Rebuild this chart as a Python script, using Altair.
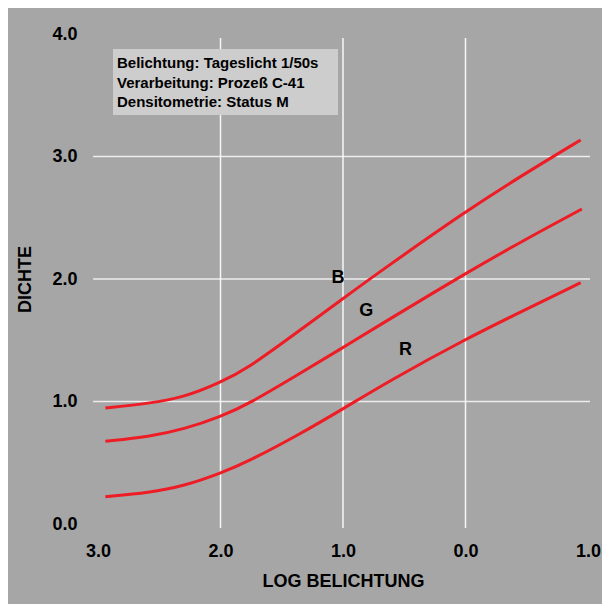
import altair as alt
import pandas as pd

# Characteristic curves (log exposure vs density)
x_b = [-2.94, -2.58, -2.30, -2.0, -1.76, -1.46, -1.0, -0.70, 0.0, 0.40, 0.94]
dens_b = [0.947, 0.985, 1.034, 1.154, 1.284, 1.502, 1.84, 2.06, 2.55, 2.808, 3.135]
x_g = [-2.94, -2.58, -2.30, -2.0, -1.76, -1.35, -1.0, -0.70, 0.0, 0.50, 0.95]
dens_g = [0.675, 0.713, 0.773, 0.876, 0.985, 1.23, 1.44, 1.625, 2.046, 2.33, 2.571]
x_r = [-2.94, -2.58, -2.30, -2.0, -1.76, -1.35, -1.0, -0.62, 0.0, 0.50, 0.94]
dens_r = [0.223, 0.256, 0.31, 0.414, 0.517, 0.735, 0.94, 1.17, 1.51, 1.755, 1.97]

curve_names = ["B", "G", "R"]
label_x = [-1.04, -0.81, -0.49]
label_y = [2.01, 1.74, 1.42]

x_ticks = [-3, -2, -1, 0, 1]
y_ticks = [0, 1, 2, 3, 4]
x_grid = [-2, -1, 0]
y_grid = [1, 2, 3]

info_lines = ["Belichtung: Tageslicht 1/50s", "Verarbeitung: Prozeß C-41", "Densitometrie: Status M"]

rows = []
for name, xsv, vals in zip(curve_names, [x_b, x_g, x_r], [dens_b, dens_g, dens_r]):
    for xv, yv in zip(xsv, vals):
        rows.append({"curve": name, "x": xv, "y": yv})
curves = pd.DataFrame(rows)
labels = pd.DataFrame({"name": curve_names, "x": label_x, "y": label_y})
vgrid = pd.DataFrame({"x": x_grid, "y": [-0.033] * 3, "y2": [3.967] * 3})
hgrid = pd.DataFrame({"y": y_grid, "x": [-3.04] * 3, "x2": [1.016] * 3})
info = pd.DataFrame({"t": info_lines, "py": [29, 49, 68]})

FONT = "Liberation Sans"
xs = alt.Scale(domain=[-3, 1], nice=False, zero=False)
ys = alt.Scale(domain=[0, 4], nice=False, zero=False)

x_axis = alt.Axis(
    values=x_ticks, labelExpr="format(abs(datum.value), '.1f')",
    title="LOG BELICHTUNG", grid=False, domain=False, ticks=False,
    labelFont=FONT, labelFontSize=18, labelFontWeight="bold", labelColor="black",
    labelPadding=18, titleFont=FONT, titleFontSize=18, titleFontWeight="bold",
    titleColor="black", titlePadding=12, labelFlush=False)
y_axis = alt.Axis(
    values=y_ticks, format=".1f", title="DICHTE", grid=False, domain=False, ticks=False,
    labelFont=FONT, labelFontSize=18, labelFontWeight="bold", labelColor="black",
    labelPadding=21, titleFont=FONT, titleFontSize=18, titleFontWeight="bold",
    titleColor="black", titlePadding=17, labelFlush=False)

X = lambda f: alt.X(f, scale=xs, axis=x_axis, title="LOG BELICHTUNG")
Y = lambda f: alt.Y(f, scale=ys, axis=y_axis, title="DICHTE")

vg = alt.Chart(vgrid).mark_rule(color="white", strokeWidth=1.5, opacity=0.9).encode(
    x=X("x:Q"), y=Y("y:Q"), y2="y2:Q",
)
hg = alt.Chart(hgrid).mark_rule(color="white", strokeWidth=1.5, opacity=0.8).encode(
    y=Y("y:Q"), x=X("x:Q"), x2="x2:Q",
)

lines = alt.Chart(curves).mark_line(color="#ee1c25", strokeWidth=3, interpolate="basis").encode(
    x=X("x:Q"), y=Y("y:Q"), detail="curve:N",
)

lbl = alt.Chart(labels).mark_text(font=FONT, fontSize=18, fontWeight="bold", color="black").encode(
    x=X("x:Q"), y=Y("y:Q"), text="name:N"
)

box = alt.Chart(pd.DataFrame({"a": [0]})).mark_rect(color="#cdcdcd").encode(
    x=alt.value(15), x2=alt.value(240), y=alt.value(15), y2=alt.value(81)
)
box_text = alt.Chart(info).mark_text(font=FONT, fontSize=15, fontWeight="bold", color="black",
                                     align="left", baseline="middle").encode(
    x=alt.value(19), y=alt.Y("py:Q", scale=None), text="t:N"
)

chart = alt.layer(vg, hg, lines, lbl, box, box_text).properties(
    width=490, height=490,
    autosize=alt.AutoSizeParams(type="none"),
    padding={"left": 90, "top": 26, "right": 14, "bottom": 80},
    background="#a6a6a6",
).configure_view(stroke=None)

chart.save("out.html", embed_options={"renderer": "svg", "actions": False})
